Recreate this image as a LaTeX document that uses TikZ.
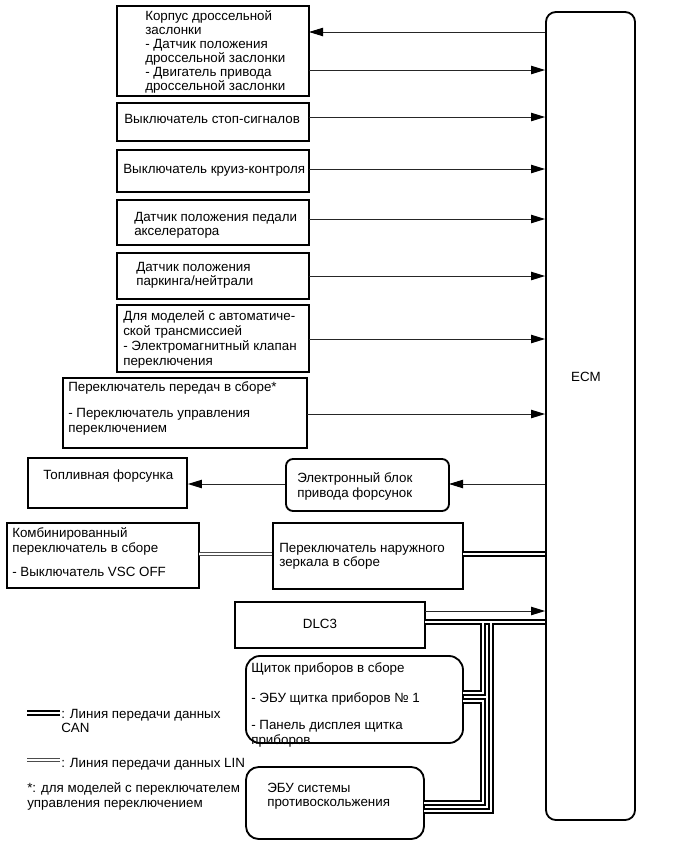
\documentclass[tikz,border=0pt]{standalone}
\usepackage{fontspec}
\setmainfont{Liberation Sans}
\usetikzlibrary{fit,arrows.meta}

\begin{document}
\begin{tikzpicture}[x=0.025cm, y=-0.025cm,
    blk/.style={draw, line width=1.3pt, inner sep=0pt},
    txt/.style={anchor=north west, align=left, inner sep=0pt, yshift=-1.4pt, font=\fontsize{9.5}{10.5}\selectfont, execute at begin node=\strut},
    sig/.style={line width=0.65pt, draw=black!85},
    tip/.style={-{Triangle[length=10pt,width=6pt,fill=black,color=black]}},
    can/.style={line width=1.5pt, double=white, double distance=0.9pt},
    lin/.style={line width=0.7pt, draw=black!70, double=white, double distance=1.5pt}]
    \useasboundingbox (0,0) rectangle (687,857);

    \node[blk, rounded corners=7pt, fit={(546,12) (635,820)}] (ecm) {};
    \node[txt, anchor=center] (ecmT) at (586,377) {ECM};

    \node[blk, fit={(117,6) (309,96)}] (thr) {};
    \node[txt, font=\fontsize{9.5}{9.9}\selectfont] (thrT) at (145,8.6) {Корпус дроссельной\\заслонки\\- Датчик положения\\дроссельной заслонки\\- Двигатель привода\\дроссельной заслонки};
    \node[blk, fit={(117,103) (309,141)}] (stop) {};
    \node[txt] (stopT) at (124,110.6) {Выключатель стоп-сигналов};
    \node[blk, fit={(117,150) (309,192)}] (cru) {};
    \node[txt] (cruT) at (123,160.6) {Выключатель круиз-контроля};
    \node[blk, fit={(117,200) (309,245)}] (acc) {};
    \node[txt] (accT) at (134,209.6) {Датчик положения педали\\акселератора};
    \node[blk, fit={(117,253) (309,299)}] (pn) {};
    \node[txt] (pnT) at (136,259.6) {Датчик положения\\паркинга/нейтрали};
    \node[blk, fit={(117,305) (309,372)}] (at) {};
    \node[txt] (atT) at (123,308.6) {Для моделей с автоматиче-\\ской трансмиссией\\- Электромагнитный клапан\\переключения};
    \node[blk, fit={(63,378) (307,448)}] (shf) {};
    \node[txt] (shfT) at (68,379.6) {Переключатель передач в сборе*\\[8pt]- Переключатель управления\\переключением};

    \node[blk, fit={(28,458) (187,508)}] (inj) {};
    \node[txt] (injT) at (43,466.6) {Топливная форсунка};
    \node[blk, rounded corners=5pt, fit={(286,459) (449,511)}] (edu) {};
    \node[txt] (eduT) at (297,470.6) {Электронный блок\\привода форсунок};

    \node[blk, fit={(7,523) (199,588)}] (cmb) {};
    \node[txt] (cmbT) at (12,525.6) {Комбинированный\\переключатель в сборе\\[6.5pt]- Выключатель VSC OFF};
    \node[blk, fit={(273,523) (463,589)}] (mir) {};
    \node[txt] (mirT) at (279,540.6) {Переключатель наружного\\зеркала в сборе};

    \node[blk, fit={(235,602) (425,648)}] (dlc) {};
    \node[txt, anchor=center] (dlcT) at (320,624) {DLC3};
    \node[blk, rounded corners=10pt, fit={(246,656) (463,743)}] (clu) {};
    \node[txt] (cluT) at (251,660.6) {Щиток приборов в сборе\\[10.5pt]- ЭБУ щитка приборов № 1\\[9pt]- Панель дисплея щитка\\приборов};
    \node[blk, rounded corners=9pt, fit={(246,767) (424,839)}] (abs) {};
    \node[txt] (absT) at (267,780.6) {ЭБУ системы\\противоскольжения};

    \coordinate (thrIn) at (309,32);
    \coordinate (thrOut) at (309,70);
    \coordinate (stopP) at (309,117);
    \coordinate (cruP) at (309,169);
    \coordinate (accP) at (309,219);
    \coordinate (pnP) at (309,276);
    \coordinate (atP) at (309,339);
    \coordinate (shfP) at (307,414);
    \coordinate (eduP) at (449,484);
    \coordinate (dlcP) at (425,611);
    \draw[sig, tip] (ecm.west |- thrIn) -- (thrIn);
    \draw[sig, tip] (thrOut) -- (ecm.west |- thrOut);
    \draw[sig, tip] (stopP) -- (ecm.west |- stopP);
    \draw[sig, tip] (cruP) -- (ecm.west |- cruP);
    \draw[sig, tip] (accP) -- (ecm.west |- accP);
    \draw[sig, tip] (pnP) -- (ecm.west |- pnP);
    \draw[sig, tip] (atP) -- (ecm.west |- atP);
    \draw[sig, tip] (shfP) -- (ecm.west |- shfP);
    \draw[sig, tip] (ecm.west |- eduP) -- (eduP);
    \draw[sig, tip] (edu.west |- eduP) -- (inj.east |- eduP);
    \draw[sig, tip] (dlcP) -- (ecm.west |- dlcP);

    \coordinate (cmbL) at (199,554);
    \coordinate (mirC) at (463,554);
    \draw[lin] (cmbL) -- (mir.west |- cmbL);
    \draw[can] (mirC) -- (ecm.west |- mirC);

    \coordinate (dlcC) at (425,622);
    \coordinate (j1) at (483,622);
    \coordinate (j2) at (491,622);
    \coordinate (cluA) at (463,693);
    \coordinate (cluB) at (463,701);
    \coordinate (absA) at (424,803);
    \coordinate (absB) at (424,811);
    \draw[can] (dlcC) -- (ecm.west |- dlcC)
        (j1) |- (cluA)
        (cluB) -| (j1 |- absA) -- (absA)
        (j2) |- (absB);

    \coordinate (canA) at (27,713);
    \coordinate (canB) at (60,713);
    \coordinate (linA) at (27,760);
    \coordinate (linB) at (60,760);
    \draw[can] (canA) -- (canB);
    \draw[lin] (linA) -- (linB);
    \node[txt] (canT) at (61,706.6) {: Линия передачи данных\\CAN};
    \node[txt] (linT) at (61,754.6) {: Линия передачи данных LIN};
    \node[txt] (note) at (27,780.6) {*: для моделей с переключателем\\управления переключением};
\end{tikzpicture}
\end{document}
